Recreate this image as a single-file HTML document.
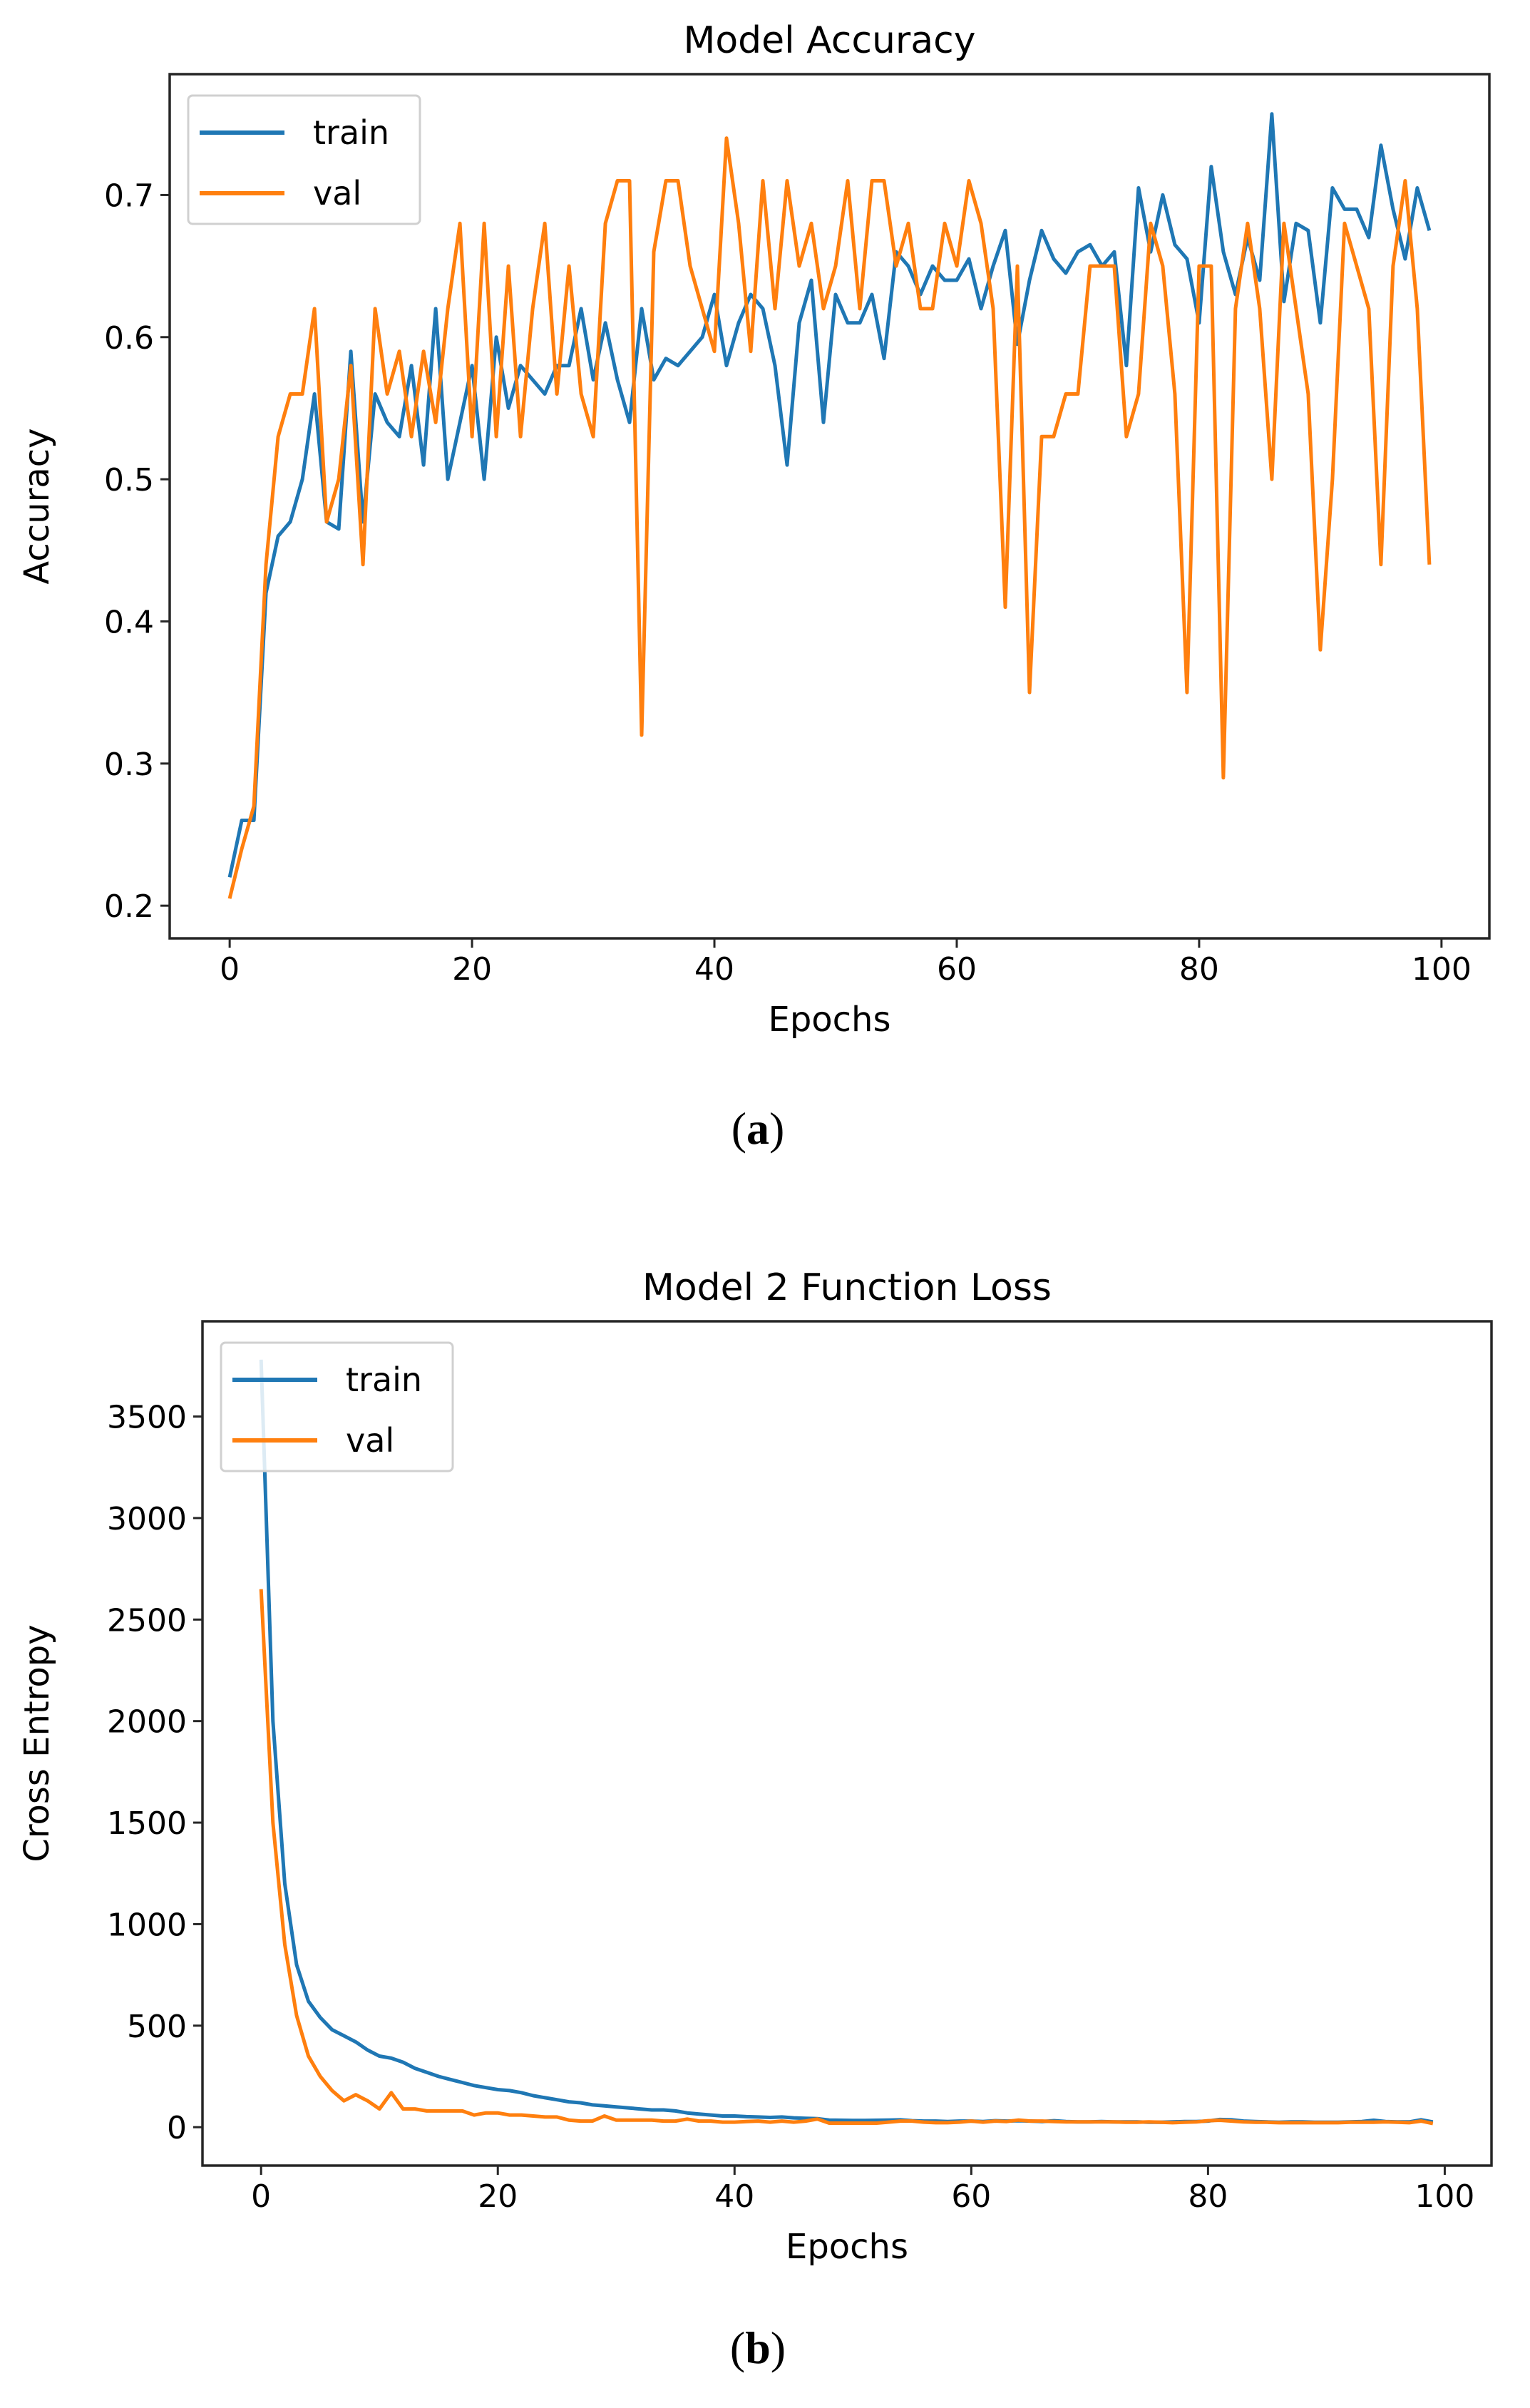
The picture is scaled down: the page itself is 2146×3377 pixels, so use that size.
<!DOCTYPE html>
<html><head><meta charset="utf-8"><style>
html,body{margin:0;padding:0;background:#fff;}
svg{display:block;}
text{font-family:"DejaVu Sans","Liberation Sans",sans-serif;fill:#000;}
.cap{font-family:"Liberation Serif",serif;}
</style></head><body>
<svg id="fig" width="2146" height="3377" viewBox="0 0 2146 3377"></svg>
<script>
const epochs = Array.from({length:100},(_,i)=>i);
const accTrain = [0.22,0.26,0.26,0.42,0.46,0.47,0.50,0.56,0.47,0.465,0.59,0.47,0.56,0.54,0.53,0.58,0.51,0.62,0.50,0.54,0.58,0.50,0.60,0.55,0.58,0.57,0.56,0.58,0.58,0.62,0.57,0.61,0.57,0.54,0.62,0.57,0.585,0.58,0.59,0.60,0.63,0.58,0.61,0.63,0.62,0.58,0.51,0.61,0.64,0.54,0.63,0.61,0.61,0.63,0.585,0.66,0.65,0.63,0.65,0.64,0.64,0.655,0.62,0.65,0.675,0.595,0.64,0.675,0.655,0.645,0.66,0.665,0.65,0.66,0.58,0.705,0.66,0.70,0.665,0.655,0.61,0.72,0.66,0.63,0.67,0.64,0.757,0.625,0.68,0.675,0.61,0.705,0.69,0.69,0.67,0.735,0.69,0.655,0.705,0.675];
const accVal = [0.205,0.24,0.27,0.44,0.53,0.56,0.56,0.62,0.47,0.50,0.58,0.44,0.62,0.56,0.59,0.53,0.59,0.54,0.62,0.68,0.53,0.68,0.53,0.65,0.53,0.62,0.68,0.56,0.65,0.56,0.53,0.68,0.71,0.71,0.32,0.66,0.71,0.71,0.65,0.62,0.59,0.74,0.68,0.59,0.71,0.62,0.71,0.65,0.68,0.62,0.65,0.71,0.62,0.71,0.71,0.65,0.68,0.62,0.62,0.68,0.65,0.71,0.68,0.62,0.41,0.65,0.35,0.53,0.53,0.56,0.56,0.65,0.65,0.65,0.53,0.56,0.68,0.65,0.56,0.35,0.65,0.65,0.29,0.62,0.68,0.62,0.50,0.68,0.62,0.56,0.38,0.50,0.68,0.65,0.62,0.44,0.65,0.71,0.62,0.44];
const lossTrain = [3780,2000,1200,800,620,540,480,450,420,380,350,340,320,290,270,250,235,220,205,195,185,180,170,155,145,135,125,120,110,105,100,95,90,85,85,80,70,65,60,55,55,52,50,48,50,46,44,42,35,34,33,33,34,35,36,32,30,30,28,30,30,28,32,30,32,30,28,32,28,26,26,28,26,26,26,24,24,26,28,28,30,38,36,30,28,26,24,26,26,24,24,24,26,28,34,28,26,26,36,26];
const lossVal = [2650,1500,900,550,350,250,180,130,160,130,90,170,90,90,80,80,80,80,60,70,70,60,60,55,50,50,35,30,30,55,35,35,35,35,30,30,40,30,30,25,25,28,30,25,30,25,30,40,20,20,20,20,20,25,30,30,25,22,22,25,30,25,30,28,35,30,30,28,26,26,26,26,26,24,24,26,24,22,24,26,32,34,30,26,24,24,22,22,22,22,22,22,24,24,24,26,24,22,30,18];
const accTicksY = [0.2,0.3,0.4,0.5,0.6,0.7];
const lossTicksY = [0,500,1000,1500,2000,2500,3000,3500];
const ticksX = [0,20,40,60,80,100];

const NS="http://www.w3.org/2000/svg";
const svg=document.getElementById('fig');
function mk(tag,attrs,parent){const e=document.createElementNS(NS,tag);for(const k in attrs)e.setAttribute(k,attrs[k]);(parent||svg).appendChild(e);return e;}

function chart(cfg){
  const g=mk('g',{});
  
  
  const {L,R,T,B,xmin,xmax,ymin,ymax}=cfg;
  const sx=v=>L+(v-xmin)/(xmax-xmin)*(R-L);
  const sy=v=>B-(v-ymin)/(ymax-ymin)*(B-T);
  const lineFor=(arr,col,nm)=>{
    const p=mk('polyline',{points:arr.map((v,i)=>sx(epochs[i]).toFixed(1)+','+sy(v).toFixed(1)).join(' '),fill:'none',stroke:col,'stroke-width':5,'stroke-linejoin':'round'},g);
    
    
  };
  lineFor(cfg.train,'#1f77b4',cfg.name+'-train-line');
  lineFor(cfg.val,'#ff7f0e',cfg.name+'-val-line');
  const box=mk('rect',{x:L,y:T,width:R-L,height:B-T,fill:'none',stroke:'#262626','stroke-width':3.5},g);
  
  
  ticksX.forEach(t=>{
    const x=sx(t);
    mk('line',{x1:x,x2:x,y1:B,y2:B+13,stroke:'#262626','stroke-width':3},g);
    const tx=mk('text',{x:x,y:B+58,'font-size':44,'text-anchor':'middle'},g);
    tx.textContent=t;
    
    
  });
  cfg.yticks.forEach(t=>{
    const y=sy(t);
    mk('line',{x1:L-13,x2:L,y1:y,y2:y,stroke:'#262626','stroke-width':3},g);
    const tx=mk('text',{x:L-22,y:y+16,'font-size':44,'text-anchor':'end'},g);
    tx.textContent=cfg.fmt(t);
    
    
  });
  const ti=mk('text',{x:(L+R)/2,y:T-30,'font-size':52,'text-anchor':'middle'},g);
  ti.textContent=cfg.title;
  
  
  const xl=mk('text',{x:(L+R)/2,y:B+130,'font-size':48,'text-anchor':'middle'},g);
  xl.textContent='Epochs';
  
  
  const yl=mk('text',{x:0,y:0,'font-size':48,'text-anchor':'middle',transform:`translate(68,${(T+B)/2}) rotate(-90)`},g);
  yl.textContent=cfg.ylabel;
  
  
  const lg=mk('g',{},g);
  
  
  const lx=L+26, ly=T+30;
  mk('rect',{x:lx,y:ly,width:325,height:180,rx:6,fill:'#fff','fill-opacity':0.85,stroke:'#d0d0d0','stroke-width':3},lg);
  [['train','#1f77b4',ly+52],['val','#ff7f0e',ly+137]].forEach(([n,c,y])=>{
    const e=mk('g',{},lg);
    
    
    mk('line',{x1:lx+16,x2:lx+135,y1:y,y2:y,stroke:c,'stroke-width':6},e);
    const t=mk('text',{x:lx+175,y:y+16,'font-size':46},e);
    t.textContent=n;
  });
}

chart({name:'accuracy-chart',L:238,R:2089,T:104,B:1316,xmin:-4.95,xmax:103.95,ymin:0.177,ymax:0.785,
  train:accTrain,val:accVal,yticks:accTicksY,fmt:v=>v.toFixed(1),title:'Model Accuracy',ylabel:'Accuracy'});
chart({name:'loss-chart',L:284,R:2092,T:1853,B:3037,xmin:-4.95,xmax:103.95,ymin:-189,ymax:3969,
  train:lossTrain,val:lossVal,yticks:lossTicksY,fmt:v=>String(v),title:'Model 2 Function Loss',ylabel:'Cross Entropy'});

[['(a)',1586,'caption-a'],['(b)',3296,'caption-b']].forEach(([s,y,n])=>{
  const t=mk('text',{x:1063,y:y+18,'font-size':64,'text-anchor':'middle','class':'cap'});
  t.innerHTML='('+'<tspan font-weight="bold">'+s[1]+'</tspan>)';
  
  
});
</script>
</body></html>
